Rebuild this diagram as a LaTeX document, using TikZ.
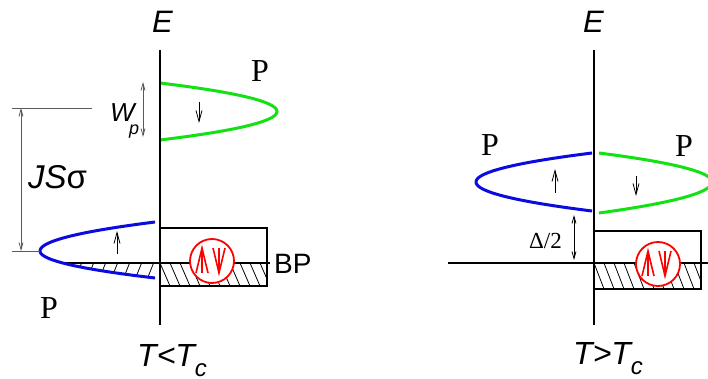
\documentclass[tikz,border=0pt]{standalone}
\usepackage{fontspec}
\setmainfont{Liberation Serif}
\setsansfont{Liberation Sans}
\usetikzlibrary{arrows.meta}
\definecolor{pgreen}{RGB}{20,225,20}
\definecolor{pblue}{RGB}{10,10,225}
\definecolor{dimgray}{RGB}{90,90,90}
\begin{document}
\begin{tikzpicture}[x=1pt,y=-1pt,
  axisline/.style={line width=2pt,black},
  bluecurve/.style={line width=3pt,pblue},
  greencurve/.style={line width=3pt,pgreen},
  spin/.style={line width=0.8pt,-{Straight Barb[length=11pt,width=6pt]}},
  dimarrow/.style={line width=0.8pt,{Straight Barb[length=7pt,width=4pt]}-{Straight Barb[length=7pt,width=4pt]}},
  boxline/.style={line width=1.8pt,black},
  hatchline/.style={line width=0.8pt,black},
  redring/.style={red,line width=1.8pt,fill=white},
  redsym/.style={red,line width=1.6pt},
  lbl/.style={inner sep=0pt,anchor=base west},
  serifP/.style={lbl,font=\fontsize{32}{32}\selectfont}]
\useasboundingbox (0,0) rectangle (708,379);

% ===================== LEFT PANEL =====================
\begin{scope}
  \clip (0,263) rectangle (160,300);
  \clip plot[domain=-29:27,samples=60,smooth] ({40+((\x)<0?0.1367:0.1578)*(\x)*(\x)},{251+\x}) -- (160,278) -- (160,222) -- cycle;
  \foreach \i in {0,...,12} \draw[hatchline] ({48+\i*12},287) -- ({58+\i*12},262);
\end{scope}
\begin{scope}
  \clip (160,263) rectangle (267,286);
  \foreach \x in {150,160,...,270} \draw[hatchline] (\x,263) -- (\x+10,286);
\end{scope}
\draw[boxline] (160,228) rectangle (267,286);
\draw[boxline] (63,263) -- (270,263);
\draw[greencurve] plot[domain=-28.5:28.5,samples=60,smooth] ({277-0.1441*(\x)*(\x)},{111.5+\x});
\draw[bluecurve] plot[domain=-29:27,samples=60,smooth] ({40+((\x)<0?0.1367:0.1578)*(\x)*(\x)},{251+\x});
\draw[axisline] (160,50) coordinate (la1) -- (160,325) coordinate (la2);
\draw[spin] (199,102) -- (199,123);
\draw[spin] (117,254) -- (117,231);
\draw[redring] (212,261) circle[radius=22pt];
\draw[redsym] (196,273) -- (202,248) -- (208,273);
\draw[redsym] (202,250) -- (202,273);
\draw[redsym] (213,248) -- (219,273) -- (225,248);
\draw[redsym] (219,248) -- (219,271);
\draw[dimgray,line width=0.8pt] (12,108) -- (92,108);
\draw[dimgray,line width=0.8pt] (12,251) -- (40,251);
\draw[dimarrow,dimgray] (21,108) -- (21,251);
\draw[dimarrow,dimgray] (143,82) -- (143,137);
\node[lbl,font=\sffamily\itshape\fontsize{31}{31}\selectfont] (lE) at (152,33) {E};
\node[lbl,font=\sffamily\itshape\fontsize{26}{26}\selectfont] (lW) at (110,122) {W};
\node[lbl,font=\sffamily\itshape\fontsize{18}{18}\selectfont] (lp) at (129,135) {p};
\node[lbl,font=\sffamily\fontsize{33}{33}\selectfont] (lJ) at (28,189) {\itshape JS\upshape σ};
\node[serifP] (lP1) at (251,82) {P};
\node[serifP] (lP2) at (40,318) {P};
\node[lbl,font=\sffamily\fontsize{28}{28}\selectfont] (lBP) at (274,273) {BP};
\node[lbl,font=\sffamily\itshape\fontsize{32}{32}\selectfont] (lT) at (137,366) {T<T\raisebox{-10pt}{\fontsize{24}{24}\selectfont c}};

% ===================== RIGHT PANEL =====================
\begin{scope}
  \clip (594,263) rectangle (701,289);
  \foreach \x in {584,594,...,710} \draw[hatchline] (\x,263) -- (\x+10,289);
\end{scope}
\draw[boxline] (594,231) rectangle (701,289);
\draw[boxline] (448,263) -- (708,263);
\draw[bluecurve] plot[domain=-29:29,samples=60,smooth] ({476+0.138*(\x)*(\x)},{182+\x});
\draw[greencurve] plot[domain=-29:31,samples=60,smooth] ({712-((\x)<0?0.1344:0.1176)*(\x)*(\x)},{182+\x});
\draw[axisline] (594,50) coordinate (ra1) -- (594,325) coordinate (ra2);
\draw[spin] (555,193) -- (555,169);
\draw[spin] (636,176) -- (636,196);
\draw[redring] (658,264) circle[radius=22pt];
\draw[redsym] (642,276) -- (648,251) -- (654,276);
\draw[redsym] (648,253) -- (648,276);
\draw[redsym] (659,251) -- (665,276) -- (671,251);
\draw[redsym] (665,251) -- (665,274);
\draw[dimarrow,black] (574,215) -- (574,260);
\node[lbl,font=\sffamily\itshape\fontsize{31}{31}\selectfont] (rE) at (583,33) {E};
\node[serifP] (rP1) at (481,156) {P};
\node[serifP] (rP2) at (675,157) {P};
\node[lbl,font=\fontsize{23}{23}\selectfont] (rD) at (529,248) {Δ/2};
\node[lbl,font=\sffamily\itshape\fontsize{32}{32}\selectfont] (rT) at (573,364) {T>T\raisebox{-10pt}{\fontsize{24}{24}\selectfont c}};
\end{tikzpicture}
\end{document}
